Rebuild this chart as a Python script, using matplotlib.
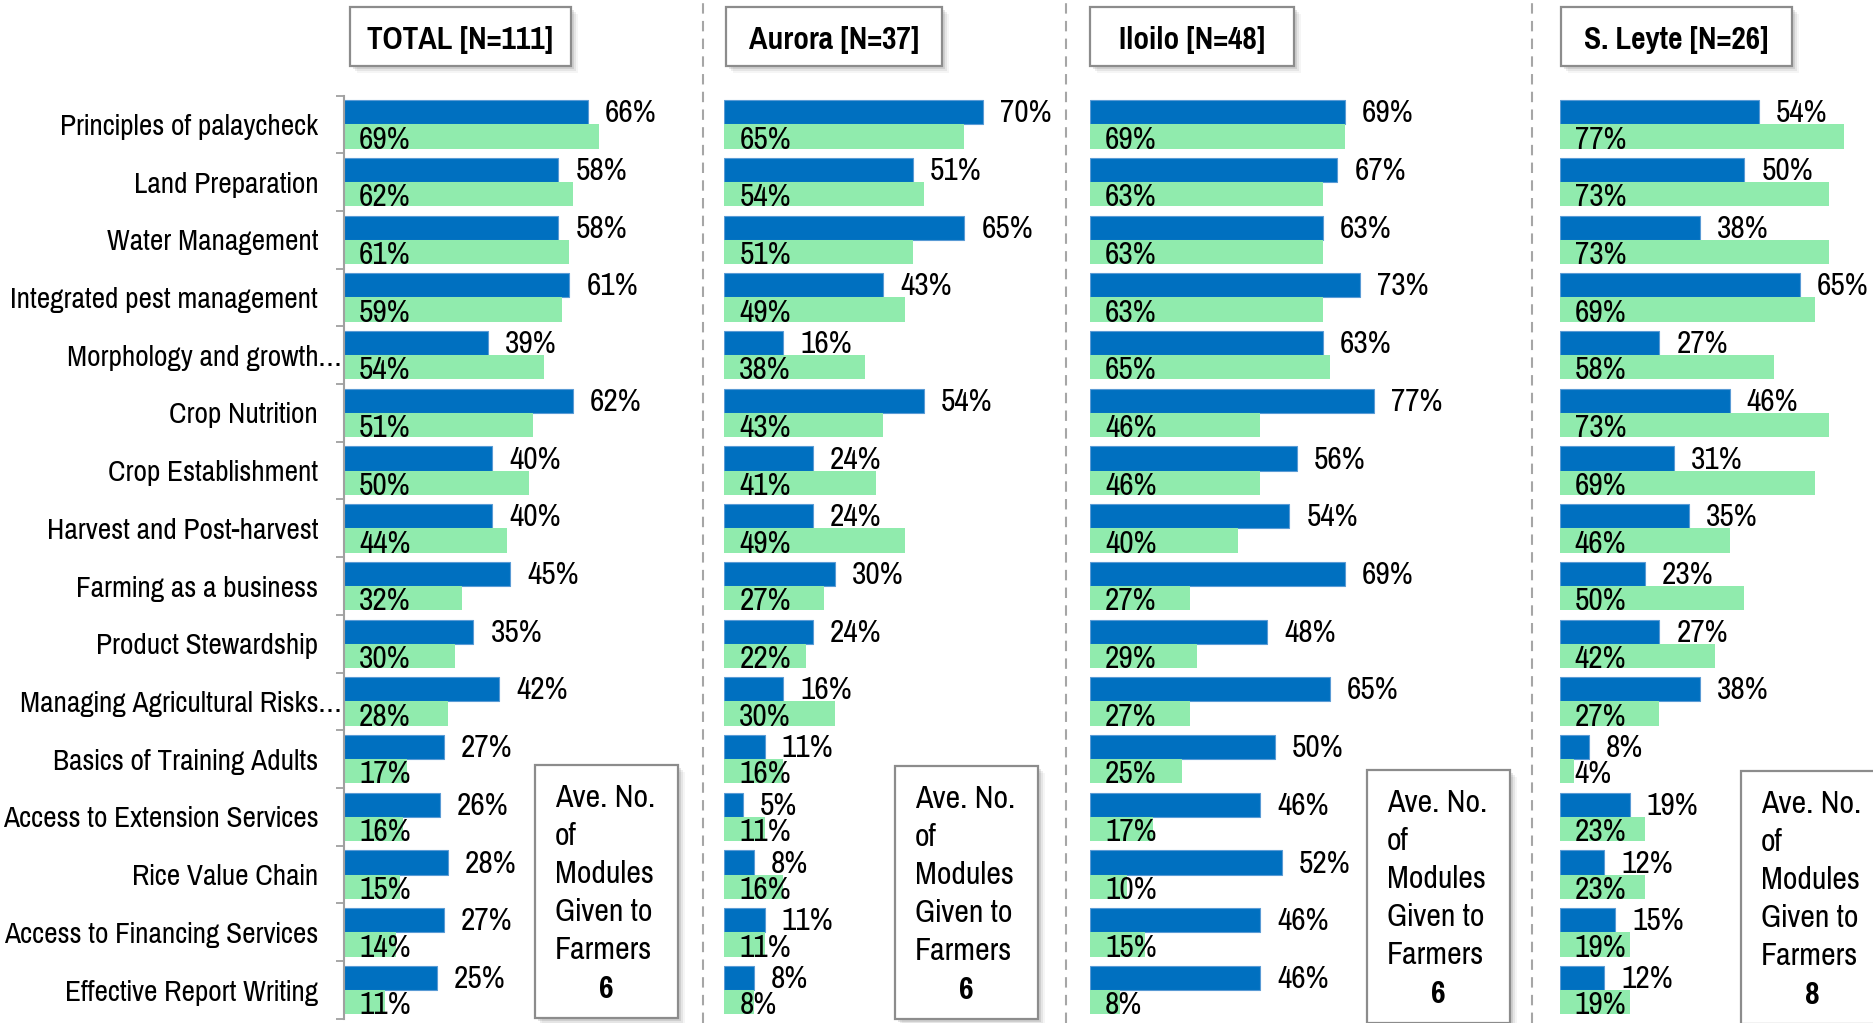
import numpy as np
import matplotlib
matplotlib.use('Agg')
import matplotlib.pyplot as plt
from matplotlib import font_manager
from matplotlib.patches import Rectangle
from matplotlib.lines import Line2D
from matplotlib.transforms import blended_transform_factory, offset_copy

# ---------------- data ----------------
categories = [
    "Principles of palaycheck", "Land Preparation", "Water Management",
    "Integrated pest management", "Morphology and growth\u2026", "Crop Nutrition",
    "Crop Establishment", "Harvest and Post-harvest", "Farming as a business",
    "Product Stewardship", "Managing Agricultural Risks\u2026", "Basics of Training Adults",
    "Access to Extension Services", "Rice Value Chain", "Access to Financing Services",
    "Effective Report Writing",
]
panel_titles = ["TOTAL [N=111]", "Aurora [N=37]", "Iloilo [N=48]", "S. Leyte [N=26]"]

total_blue = [66, 58, 58, 61, 39, 62, 40, 40, 45, 35, 42, 27, 26, 28, 27, 25]
total_green = [69, 62, 61, 59, 54, 51, 50, 44, 32, 30, 28, 17, 16, 15, 14, 11]
aurora_blue = [70, 51, 65, 43, 16, 54, 24, 24, 30, 24, 16, 11, 5, 8, 11, 8]
aurora_green = [65, 54, 51, 49, 38, 43, 41, 49, 27, 22, 30, 16, 11, 16, 11, 8]
iloilo_blue = [69, 67, 63, 73, 63, 77, 56, 54, 69, 48, 65, 50, 46, 52, 46, 46]
iloilo_green = [69, 63, 63, 63, 65, 46, 46, 40, 27, 29, 27, 25, 17, 10, 15, 8]
sleyte_blue = [54, 50, 38, 65, 27, 46, 31, 35, 23, 27, 38, 8, 19, 12, 15, 12]
sleyte_green = [77, 73, 73, 69, 58, 73, 69, 46, 50, 42, 27, 4, 23, 23, 19, 19]

avg_modules = [6, 6, 6, 8]
box_lines = ["Ave. No.", "of", "Modules", "Given to", "Farmers"]

blue_series = [total_blue, aurora_blue, iloilo_blue, sleyte_blue]
green_series = [total_green, aurora_green, iloilo_green, sleyte_green]

# ---------------- fonts ----------------
names = {f.name for f in font_manager.fontManager.ttflist}
FONT, k = 'Liberation Sans', 0.84
for cand, kk in [('Liberation Sans Narrow', 0.87), ('Arial Narrow', 0.87),
                 ('Pragati Narrow', 1.0), ('Archivo Narrow', 0.95),
                 ('Roboto Condensed', 0.95), ('PT Sans Narrow', 0.95)]:
    if cand in names:
        FONT, k = cand, kk
        break
plt.rcParams['font.family'] = [FONT, 'DejaVu Sans']

FS_CAT = 23 * k
FS_VAL = 24.6 * k
FS_TITLE = 24.5 * k
FS_BOX = 25 * k

BLUE = '#0070C0'
GREEN = '#90EBAD'
GRAY = '#8C8C8C'

W, H = 1874, 1023
fig = plt.figure(figsize=(W / 100, H / 100), dpi=100)
fig.patch.set_facecolor('white')


def fx(px):
    return px / W


def fy(py):
    return 1 - py / H


PX_PER = 3.693
XMAX = 85
ax_left = [344.2, 724.3, 1090.0, 1559.7]
ax_top, ax_bot = 95.5, 1018.9
n = len(categories)
ypos = np.arange(n)
BH = 0.42

for p in range(4):
    ax = fig.add_axes([fx(ax_left[p]), fy(ax_bot), XMAX * PX_PER / W, (ax_bot - ax_top) / H])
    ax.set_xlim(0, XMAX)
    ax.set_ylim(n - 0.5, -0.5)
    ax.patch.set_alpha(0)
    ax.barh(ypos - BH / 2, blue_series[p], height=BH, color=BLUE,
            edgecolor='#5A9BD5', linewidth=0.8, zorder=2)
    ax.barh(ypos + BH / 2, green_series[p], height=BH, color=GREEN,
            linewidth=0, zorder=2)
    for i in range(n):
        ax.annotate(f"{blue_series[p][i]}%", (blue_series[p][i], i),
                    xytext=(17, 2), textcoords='offset pixels',
                    ha='left', va='baseline', fontsize=FS_VAL, color='black', zorder=3)
        ax.annotate(f"{green_series[p][i]}%", (0, i + BH),
                    xytext=(15, 0), textcoords='offset pixels',
                    ha='left', va='baseline', fontsize=FS_VAL, color='black', zorder=3)
    for s in ['top', 'right', 'bottom']:
        ax.spines[s].set_visible(False)
    ax.set_xticks([])
    if p == 0:
        ax.spines['left'].set_color('#A0A0A0')
        ax.spines['left'].set_linewidth(1.5)
        ax.set_yticks(ypos)
        ax.set_yticklabels([c.rstrip('\u2026') for c in categories], fontsize=FS_CAT)
        ax.set_yticks(np.arange(-0.5, n, 1), minor=True)
        ax.tick_params(axis='y', which='major', length=0, pad=18.7)
        ax.tick_params(axis='y', which='minor', length=6, width=1.3,
                       color='#A0A0A0', direction='out')
        tr = offset_copy(blended_transform_factory(ax.transAxes, ax.transData),
                         fig=fig, x=-27, y=0, units='dots')
        for i, c in enumerate(categories):
            if c.endswith('\u2026'):
                ax.text(0, i, '\u2026', transform=tr, ha='left', va='center_baseline',
                        fontsize=FS_CAT)
    else:
        ax.spines['left'].set_visible(False)
        ax.set_yticks([])


def shadow_box(x0, y0, x1, y1, lw=1.6):
    for off, a in [(7, 0.06), (5, 0.10), (3, 0.16)]:
        fig.add_artist(Rectangle((fx(x0 + off), fy(y1 + off)), fx(x1 - x0), (y1 - y0) / H,
                                 transform=fig.transFigure, facecolor='#606060',
                                 edgecolor='none', alpha=a, zorder=4))
    fig.add_artist(Rectangle((fx(x0), fy(y1)), fx(x1 - x0), (y1 - y0) / H,
                             transform=fig.transFigure, facecolor='white',
                             edgecolor=GRAY, linewidth=lw, zorder=5))


# title boxes
title_boxes = [(350, 571), (726, 942), (1090, 1294), (1561, 1792)]
for (x0, x1), t in zip(title_boxes, panel_titles):
    shadow_box(x0, 7, x1, 66)
    fig.text(fx((x0 + x1) / 2), fy(37), t, ha='center', va='center_baseline',
             fontsize=FS_TITLE, fontweight='bold', zorder=6)

# annotation boxes
ann_boxes = [(535, 765), (895, 766), (1367, 770), (1741, 771)]
for (x0, y0), val in zip(ann_boxes, avg_modules):
    x1, y1 = x0 + 143, y0 + 253
    shadow_box(x0, y0, x1, y1)
    for j, line in enumerate(box_lines):
        fig.text(fx(x0 + 20), fy(y0 + 42 + 38 * j), line, ha='left', va='baseline',
                 fontsize=FS_BOX, zorder=6)
    fig.text(fx(x0 + 71.5), fy(y0 + 233), str(val), ha='center', va='baseline',
             fontsize=FS_BOX, fontweight='bold', zorder=6)

# dashed separators
for x in [702.8, 1066, 1532]:
    fig.add_artist(Line2D([fx(x), fx(x)], [0, 1], transform=fig.transFigure,
                          color='#A6A6A6', linewidth=1.5, linestyle=(0, (5, 3.5)), zorder=1))

fig.savefig('out.png', dpi=100, facecolor='white')
